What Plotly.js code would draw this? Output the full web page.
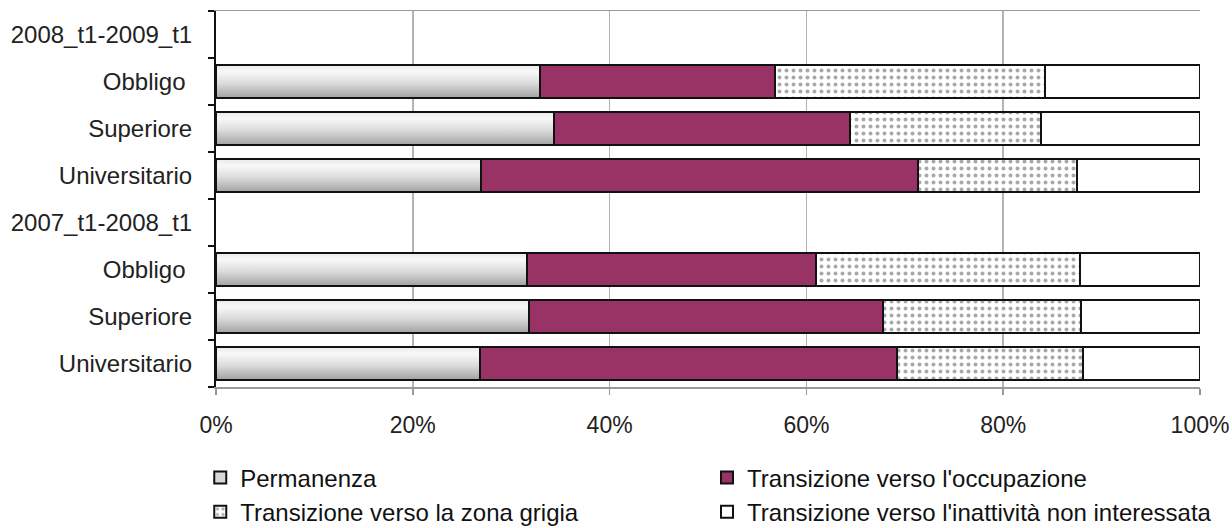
<!DOCTYPE html>
<html>
<head>
<meta charset="utf-8">
<script src="https://cdn.plot.ly/plotly-3.0.1.min.js"></script>
<style>
html,body{margin:0;padding:0;background:#fff;}
#chart{width:1232px;height:528px;}
</style>
</head>
<body>
<div id="chart"></div>
<script>
// Row labels, top to bottom (header rows carry no values)
const rowLabels = ["2008_t1-2009_t1", "Obbligo\u00a0", "Superiore", "Universitario",
                   "2007_t1-2008_t1", "Obbligo\u00a0", "Superiore", "Universitario"];
// Shares (%)
const permanenza   = [null, 32.9, 34.3, 26.9, null, 31.6, 31.8, 26.8];
const occupazione  = [null, 23.9, 30.1, 44.4, null, 29.4, 36.0, 42.4];
const zonaGrigia   = [null, 27.4, 19.4, 16.2, null, 26.8, 20.1, 18.9];
const inattivita   = [null, 15.8, 16.2, 12.5, null, 12.2, 12.1, 11.9];
const seriesNames = ["Permanenza", "Transizione verso l'occupazione",
                     "Transizione verso la zona grigia", "Transizione verso l'inattività non interessata"];
const xTickVals = [0, 20, 40, 60, 80, 100];
const xTickText = ["0%", "20%", "40%", "60%", "80%", "100%"];

const rowIdx = rowLabels.map((_, i) => i);
const boundaries = rowLabels.map((_, i) => i - 0.5).concat([rowLabels.length - 0.5]);
const edge = {color: "#111", width: 2};

const traces = [
  {name: seriesNames[0], x: permanenza, legend: "legend", marker: {color: "#d8d8d8", line: edge}},
  {name: seriesNames[1], x: occupazione, legend: "legend2", marker: {color: "#993366", line: edge}},
  {name: seriesNames[2], x: zonaGrigia, legend: "legend", marker: {color: "#ffffff", line: edge,
     pattern: {shape: ".", fgcolor: "#a8a8a8", bgcolor: "#ffffff", size: 7, solidity: 0.25}}},
  {name: seriesNames[3], x: inattivita, legend: "legend2", marker: {color: "#ffffff", line: edge}}
].map(t => Object.assign({type: "bar", orientation: "h", y: rowIdx, width: 0.7, hoverinfo: "x+name"}, t));

const legendFont = {family: "Liberation Sans, Arial, sans-serif", size: 24, color: "#111"};
const legendBase = {orientation: "v", xanchor: "left", y: -0.182, yanchor: "top",
                    font: legendFont, itemwidth: 30, tracegroupgap: 0, traceorder: "normal",
                    bgcolor: "rgba(0,0,0,0)"};

const layout = {
  width: 1232, height: 528,
  margin: {l: 216, r: 32, t: 11, b: 141, autoexpand: false},
  paper_bgcolor: "#fff", plot_bgcolor: "#fff",
  barmode: "stack",
  font: {family: "Liberation Sans, Arial, sans-serif", size: 22, color: "#222"},
  xaxis: {
    range: [0, 100], tickvals: xTickVals, ticktext: xTickText,
    tickfont: {size: 23},
    showgrid: true, gridcolor: "#b4b4b4", gridwidth: 1.5,
    showline: true, linecolor: "#9a9a9a", linewidth: 1.5, mirror: true,
    ticks: "outside", ticklen: 6, tickcolor: "#9a9a9a", tickwidth: 1.5,
    ticklabelstandoff: 11, zeroline: false, fixedrange: true
  },
  yaxis: {
    range: [rowLabels.length - 0.5, -0.5], autorange: false,
    tickmode: "array", tickvals: rowIdx, ticktext: rowLabels,
    tickfont: {size: 24},
    ticks: "", showgrid: false, zeroline: false,
    showline: true, linecolor: "#111", linewidth: 2,
    ticklabelstandoff: 17,
    minor: {tickmode: "array", tickvals: boundaries, ticks: "outside", ticklen: 6,
            tickcolor: "#111", tickwidth: 1.5, showgrid: false},
    fixedrange: true
  },
  showlegend: true,
  legend: Object.assign({x: -0.016}, legendBase),
  legend2: Object.assign({x: 0.499}, legendBase)
};

Plotly.newPlot("chart", traces, layout, {displayModeBar: false, staticPlot: true}).then(gd => {
  // vertical light-to-grey gradient for the "Permanenza" series, as in the original
  const svgNS = "http://www.w3.org/2000/svg";
  const svg = gd.querySelector(".main-svg");
  let defs = svg.querySelector("defs");
  if (!defs) { defs = document.createElementNS(svgNS, "defs"); svg.insertBefore(defs, svg.firstChild); }
  const g = document.createElementNS(svgNS, "linearGradient");
  g.setAttribute("id", "permGrad");
  g.setAttribute("x1", "0"); g.setAttribute("y1", "0"); g.setAttribute("x2", "0"); g.setAttribute("y2", "1");
  [["0", "#e9e9e9"], ["0.2", "#f8f8f8"], ["0.55", "#dcdcdc"], ["1", "#a2a2a2"]].forEach(([o, c]) => {
    const s = document.createElementNS(svgNS, "stop");
    s.setAttribute("offset", o); s.setAttribute("stop-color", c);
    g.appendChild(s);
  });
  defs.appendChild(g);
  const firstTrace = gd.querySelector(".barlayer .trace");
  if (firstTrace) firstTrace.querySelectorAll("path").forEach(p => { p.style.fill = "url(#permGrad)"; });
});
</script>
</body>
</html>
